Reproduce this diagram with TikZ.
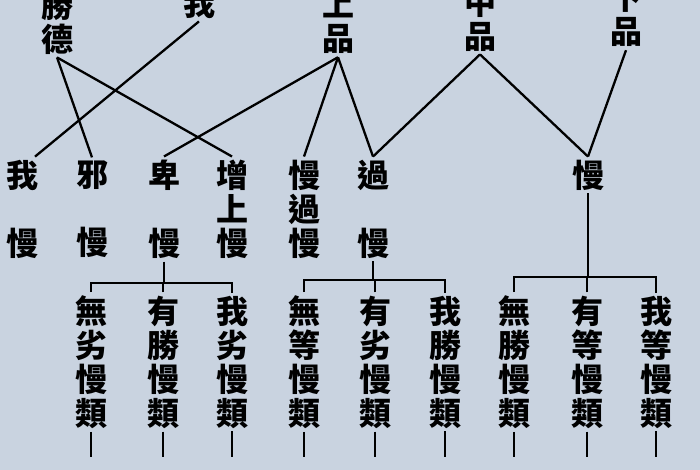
\documentclass[tikz,border=0pt]{standalone}
\usepackage{fontspec}
\newfontfamily\cjk{Noto Sans CJK TC}
\definecolor{paper}{RGB}{201,211,224}
\tikzstyle{term} = [font=\cjk\bfseries\fontsize{32}{34}\selectfont, align=center, inner sep=3pt]
\tikzstyle{link} = [draw, line width=2.3pt]

\begin{document}
\begin{tikzpicture}[x=1pt, y=-1pt]
      \fill[paper] (0,0) rectangle (700,470);
      \useasboundingbox (0,0) rectangle (700,470);

      % top row
      \node[term] (shengde) at (57, 22) {勝\\德};
      \node[term] (wo) at (199, 3) {我};
      \node[term] (shangpin) at (338, 22) {上\\品};
      \node[term] (zhongpin) at (480, 19) {中\\品};
      \node[term] (xiapin) at (626, 16) {下\\品};

      % second row
      \node[term] (woman) at (22, 209) {我\\\phantom{上}\\慢};
      \node[term] (xieman) at (92, 209) {邪\\\phantom{上}\\慢};
      \node[term] (beiman) at (164, 209) {卑\\\phantom{上}\\慢};
      \node[term] (zengshang) at (232, 209) {增\\上\\慢};
      \node[term] (manguo) at (304, 209) {慢\\過\\慢};
      \node[term] (guoman) at (373, 209) {過\\\phantom{上}\\慢};
      \node[term] (man) at (588, 175) {慢};

      % third row
      \node[term] (wulie) at (91, 362) {無\\劣\\慢\\類};
      \node[term] (yousheng) at (163, 362) {有\\勝\\慢\\類};
      \node[term] (wolie) at (232, 362) {我\\劣\\慢\\類};
      \node[term] (wudeng) at (304, 362) {無\\等\\慢\\類};
      \node[term] (youlie) at (375, 362) {有\\劣\\慢\\類};
      \node[term] (wosheng) at (445, 362) {我\\勝\\慢\\類};
      \node[term] (wusheng) at (514, 362) {無\\勝\\慢\\類};
      \node[term] (youdeng) at (587, 362) {有\\等\\慢\\類};
      \node[term] (wodeng) at (656, 362) {我\\等\\慢\\類};

      \coordinate (bar1) at (0, 283);
      \coordinate (bar2) at (0, 280);
      \coordinate (bar3) at (0, 277);
      \coordinate (bot) at (0, 457);

      \draw[link] (shengde.south) -- (xieman.north);
      \draw[link] (shengde.south) -- (zengshang.north);
      \draw[link] (wo.south) -- ([xshift=13pt]woman.north);
      \draw[link] (shangpin.south) -- (beiman.north);
      \draw[link] (shangpin.south) -- (manguo.north);
      \draw[link] (shangpin.south) -- (guoman.north);
      \draw[link] (zhongpin.south) -- (guoman.north);
      \draw[link] (zhongpin.south) -- (man.north);
      \draw[link] (xiapin.south) -- (man.north);

      \draw[link] (beiman.south) -- (beiman.south |- bar1);
      \draw[link] (wulie.north) |- (bar1 -| wolie.north) -- (wolie.north);
      \draw[link] (yousheng.north) -- (yousheng.north |- bar1);
      \draw[link] (guoman.south) -- (guoman.south |- bar2);
      \draw[link] (wudeng.north) |- (bar2 -| wosheng.north) -- (wosheng.north);
      \draw[link] (youlie.north) -- (youlie.north |- bar2);
      \draw[link] (man.south) -- (man.south |- bar3);
      \draw[link] (wusheng.north) |- (bar3 -| wodeng.north) -- (wodeng.north);
      \draw[link] (youdeng.north) -- (youdeng.north |- bar3);

      \foreach \n in {wulie, yousheng, wolie, wudeng, youlie, wosheng, wusheng, youdeng, wodeng}
        \draw[link] (\n.south) -- (\n.south |- bot);
    \end{tikzpicture}
\end{document}
